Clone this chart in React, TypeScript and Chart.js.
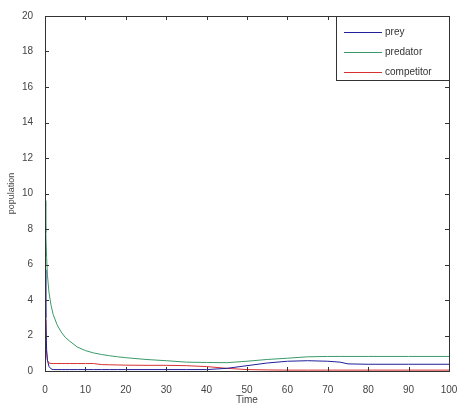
import React, { useEffect, useRef } from "react";
import { Chart, registerables } from "chart.js";

Chart.register(...registerables);

const times = [0, 0.2, 0.4, 0.6, 1, 1.5, 2, 3, 4, 5, 6, 8, 10, 12, 14, 16, 18, 20, 25, 30, 35, 40, 45, 50, 55, 60, 65, 70, 73, 75, 80, 90, 100];
const prey = [5.7, 3.0, 1.2, 0.6, 0.25, 0.12, 0.08, 0.08, 0.08, 0.08, 0.08, 0.08, 0.08, 0.08, 0.08, 0.08, 0.08, 0.08, 0.08, 0.08, 0.08, 0.08, 0.15, 0.3, 0.45, 0.55, 0.58, 0.55, 0.5, 0.4, 0.38, 0.38, 0.38];
const predator = [9.6, 7.8, 6.4, 5.4, 4.4, 3.7, 3.2, 2.6, 2.2, 1.9, 1.7, 1.35, 1.15, 1.02, 0.93, 0.86, 0.8, 0.75, 0.65, 0.58, 0.5, 0.48, 0.47, 0.55, 0.65, 0.72, 0.8, 0.82, 0.82, 0.82, 0.82, 0.82, 0.82];
const competitor = [2.9, 1.8, 1.0, 0.6, 0.45, 0.42, 0.42, 0.42, 0.42, 0.42, 0.42, 0.42, 0.42, 0.42, 0.36, 0.35, 0.34, 0.33, 0.32, 0.32, 0.3, 0.25, 0.15, 0.08, 0.06, 0.05, 0.05, 0.05, 0.05, 0.05, 0.05, 0.05, 0.05];

const seriesNames = ["prey", "predator", "competitor"];
const seriesColors = ["#20209a", "#3a9a6a", "#d83030"];
const xTicks = [0, 10, 20, 30, 40, 50, 60, 70, 80, 90, 100];
const yTicks = [0, 2, 4, 6, 8, 10, 12, 14, 16, 18, 20];

const FONT = "'Liberation Sans', Arial, sans-serif";

const boxPlugin = {
  id: "matlabBox",
  afterDraw(chart: any) {
    const { ctx, chartArea: a, scales } = chart;
    ctx.save();
    ctx.strokeStyle = "#333";
    ctx.lineWidth = 1;
    ctx.strokeRect(a.left + 0.5, a.top + 0.5, a.right - a.left, a.bottom - a.top);
    const tl = 4;
    ctx.beginPath();
    xTicks.forEach((v) => {
      const px = Math.round(scales.x.getPixelForValue(v)) + 0.5;
      ctx.moveTo(px, a.bottom);
      ctx.lineTo(px, a.bottom - tl);
      ctx.moveTo(px, a.top);
      ctx.lineTo(px, a.top + tl);
    });
    yTicks.forEach((v) => {
      const py = Math.round(scales.y.getPixelForValue(v)) + 0.5;
      ctx.moveTo(a.left, py);
      ctx.lineTo(a.left + tl, py);
      ctx.moveTo(a.right, py);
      ctx.lineTo(a.right - tl, py);
    });
    ctx.stroke();

    // legend inside top-right
    const w = 113;
    const h = 64;
    const lx = a.right - w;
    const ly = a.top;
    ctx.fillStyle = "#fff";
    ctx.fillRect(lx, ly, w, h);
    ctx.strokeStyle = "#333";
    ctx.strokeRect(lx + 0.5, ly + 0.5, w, h);
    ctx.font = `10px ${FONT}`;
    ctx.textBaseline = "middle";
    chart.data.datasets.forEach((ds: any, i: number) => {
      const yy = ly + 16 + i * 20;
      ctx.strokeStyle = ds.borderColor;
      ctx.beginPath();
      ctx.moveTo(lx + 8, yy + 0.5);
      ctx.lineTo(lx + 46, yy + 0.5);
      ctx.stroke();
      ctx.fillStyle = "#333";
      ctx.fillText(ds.label, lx + 49, yy);
    });
    ctx.restore();
  },
};

export default function App() {
  const ref = useRef<HTMLCanvasElement>(null);
  useEffect(() => {
    if (!ref.current) return;
    const series = [prey, predator, competitor];
    const chart = new Chart(ref.current, {
      type: "line",
      data: {
        datasets: series.map((s, i) => ({
          label: seriesNames[i],
          data: times.map((t, j) => ({ x: t, y: s[j] })),
          borderColor: seriesColors[i],
          borderWidth: 1,
          pointRadius: 0,
          tension: 0,
          fill: false,
        })),
      },
      options: {
        animation: false,
        responsive: false,
        layout: { padding: { top: 16, right: 10, left: 0, bottom: 0 } },
        plugins: { legend: { display: false }, tooltip: { enabled: false } },
        scales: {
          x: {
            type: "linear",
            min: 0,
            max: 100,
            afterBuildTicks: (s: any) => {
              s.ticks = xTicks.map((v) => ({ value: v }));
            },
            afterFit: (s: any) => {
              s.height = 39;
              s.paddingRight = 0;
              s.paddingLeft = 0;
            },
            grid: { display: false },
            border: { display: false },
            ticks: { color: "#444", font: { family: FONT, size: 10 }, padding: 5 },
            title: { display: true, text: "Time", color: "#444", font: { family: FONT, size: 10 }, padding: { top: 4 } },
          },
          y: {
            type: "linear",
            min: 0,
            max: 20,
            afterBuildTicks: (s: any) => {
              s.ticks = yTicks.map((v) => ({ value: v }));
            },
            afterFit: (s: any) => {
              s.width = 45;
              s.paddingTop = 0;
              s.paddingBottom = 0;
            },
            grid: { display: false },
            border: { display: false },
            ticks: { color: "#444", font: { family: FONT, size: 10 }, padding: 4 },
            title: { display: true, text: "population", color: "#444", font: { family: FONT, size: 9 }, padding: { top: 6, bottom: 0 } },
          },
        },
      },
      plugins: [boxPlugin],
    } as any);
    return () => chart.destroy();
  }, []);
  return (
    <div style={{ position: "fixed", left: 0, top: 0, width: 459, height: 410, background: "#fff" }}>
      <canvas ref={ref} width={459} height={410} style={{ display: "block" }} />
    </div>
  );
}
